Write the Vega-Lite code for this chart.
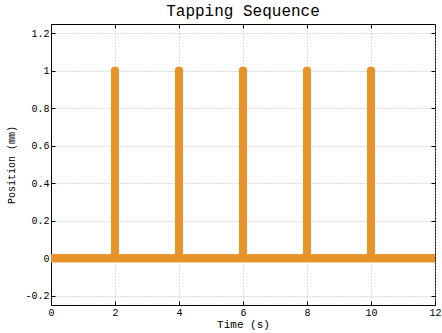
{
  "$schema": "https://vega.github.io/schema/vega-lite/v6.json",
  "autosize": "none",
  "padding": {"left": 51, "top": 24, "right": 7, "bottom": 28},
  "width": 384,
  "height": 281,
  "title": {"text": "Tapping Sequence", "font": "Liberation Mono", "fontSize": 16, "fontWeight": "normal", "color": "#000", "offset": 5},
  "config": {
    "view": {"stroke": "#000", "strokeWidth": 1},
    "axis": {
      "labelFont": "Liberation Mono", "labelFontSize": 10, "labelColor": "#000",
      "titleFont": "Liberation Mono", "titleFontSize": 10, "titleFontWeight": "normal", "titleColor": "#000",
      "domainColor": "#000", "tickColor": "#000", "tickSize": -4, "labelFlush": false,
      "gridColor": "#b8b8b8", "gridDash": [1, 2], "gridWidth": 1
    }
  },
  "data": {"values": [
    {"i": 0, "t": 0, "pos": 0},
    {"i": 1, "t": 2, "pos": 0},
    {"i": 2, "t": 2, "pos": 1},
    {"i": 3, "t": 2, "pos": 0},
    {"i": 4, "t": 4, "pos": 0},
    {"i": 5, "t": 4, "pos": 1},
    {"i": 6, "t": 4, "pos": 0},
    {"i": 7, "t": 6, "pos": 0},
    {"i": 8, "t": 6, "pos": 1},
    {"i": 9, "t": 6, "pos": 0},
    {"i": 10, "t": 8, "pos": 0},
    {"i": 11, "t": 8, "pos": 1},
    {"i": 12, "t": 8, "pos": 0},
    {"i": 13, "t": 10, "pos": 0},
    {"i": 14, "t": 10, "pos": 1},
    {"i": 15, "t": 10, "pos": 0},
    {"i": 16, "t": 12, "pos": 0}
  ]},
  "layer": [
    {
      "mark": {"type": "line", "color": "#e8922a", "strokeWidth": 8, "strokeCap": "round", "strokeJoin": "round", "clip": true},
      "encoding": {
        "x": {"field": "t", "type": "quantitative", "scale": {"domain": [0, 12], "nice": false}, "axis": {"values": [0, 2, 4, 6, 8, 10, 12], "title": "Time (s)", "titleFontSize": 11, "titlePadding": 1, "labelPadding": 6, "labelExpr": "replace(format(datum.value, '~g'), '\u2212', '-')"}},
        "y": {"field": "pos", "type": "quantitative", "scale": {"domain": [-0.25, 1.25], "nice": false, "zero": false}, "axis": {"values": [-0.2, 0, 0.2, 0.4, 0.6, 0.8, 1, 1.2], "title": "Position (mm)", "titlePadding": 8, "labelPadding": 6, "labelExpr": "replace(format(datum.value, '~g'), '\u2212', '-')"}},
        "order": {"field": "i"}
      }
    },
    {
      "mark": {"type": "line", "color": "#e8922a", "strokeWidth": 8, "strokeCap": "round", "strokeJoin": "round", "clip": true},
      "encoding": {
        "x": {"field": "t", "type": "quantitative", "scale": {"domain": [0, 12], "nice": false}, "axis": {"orient": "top", "values": [0, 2, 4, 6, 8, 10, 12], "title": null, "labels": false, "grid": false, "domain": false}},
        "y": {"field": "pos", "type": "quantitative", "scale": {"domain": [-0.25, 1.25], "nice": false, "zero": false}, "axis": {"orient": "right", "values": [-0.2, 0, 0.2, 0.4, 0.6, 0.8, 1, 1.2], "title": null, "labels": false, "grid": false, "domain": false}},
        "order": {"field": "i"}
      }
    }
  ],
  "resolve": {"axis": {"x": "independent", "y": "independent"}}
}
